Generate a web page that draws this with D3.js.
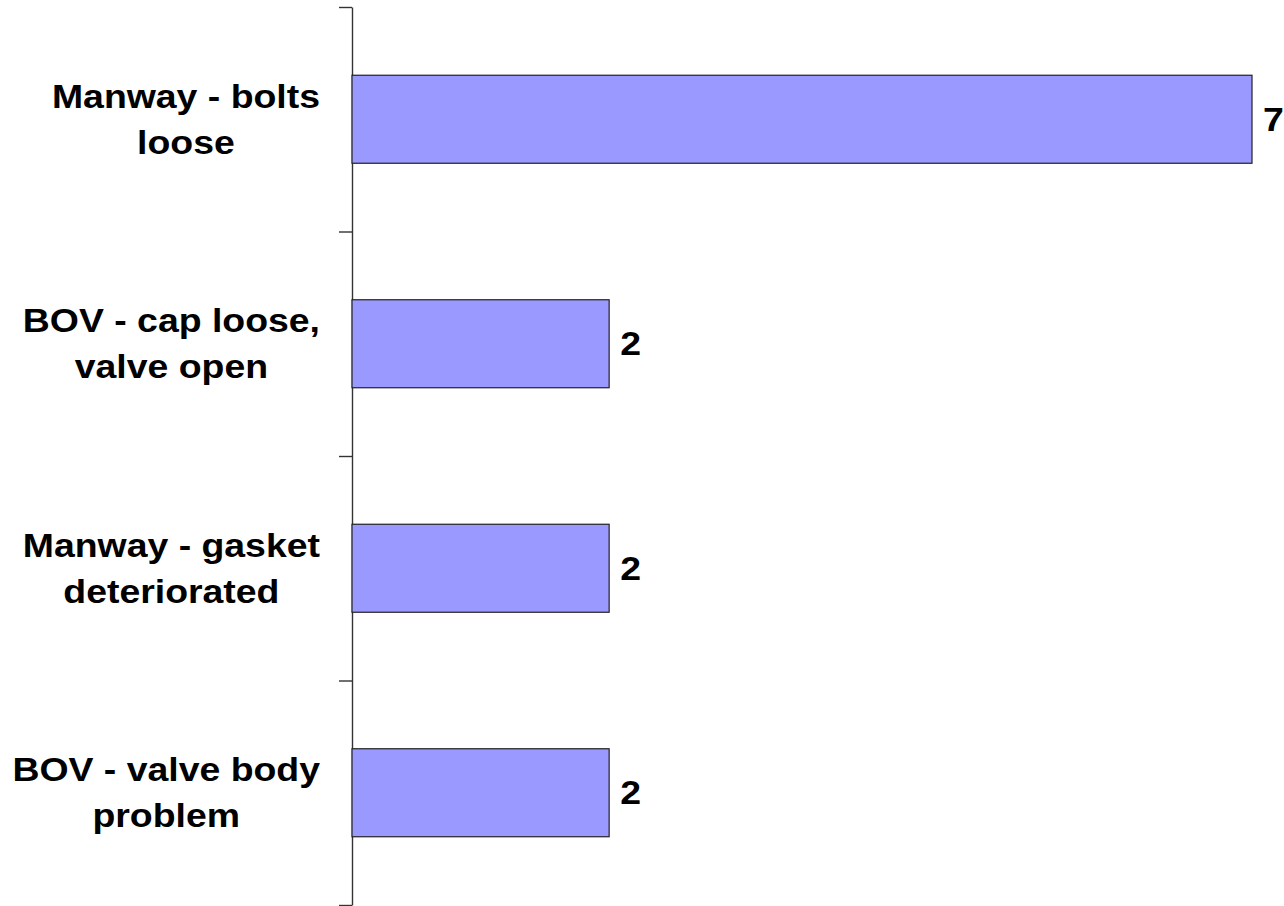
<!DOCTYPE html>
<html>
<head>
<meta charset="utf-8">
<script src="https://cdn.jsdelivr.net/npm/d3@7"></script>
<style>
  html, body { margin: 0; padding: 0; background: #ffffff; }
  svg { display: block; }
  text { font-family: "Liberation Sans", Arial, sans-serif; font-weight: bold; fill: #000; }
</style>
</head>
<body>
<svg id="chart" width="1284" height="906"></svg>
<script>
const categories = [
  ["Manway - bolts", "loose"],
  ["BOV - cap loose,", "valve open"],
  ["Manway - gasket", "deteriorated"],
  ["BOV - valve body", "problem"]
];
const values = [7, 2, 2, 2];
const valueLabels = ["7", "2", "2", "2"];

(function () {
const svg = d3.select("#chart");
const plotLeft = 352, plotRight = 1252, plotTop = 7, plotBottom = 905;

const keys = categories.map((c, i) => i);
const y = d3.scaleBand().domain(keys).range([plotTop, plotBottom]).paddingInner(0.608).paddingOuter(0.304);
const x = d3.scaleLinear().domain([0, 7]).range([plotLeft, plotRight]);
const yEdge = d3.scaleLinear().domain([0, categories.length]).range([plotTop, plotBottom]);

// axis with ticks at category boundaries
const axisG = svg.append("g").attr("transform", `translate(${plotLeft},0)`)
  .call(d3.axisLeft(yEdge).tickValues(d3.range(categories.length + 1)).tickSize(13).tickFormat(() => "").tickSizeOuter(0));
axisG.select(".domain").attr("stroke", "#333").attr("stroke-width", 1.4);
axisG.selectAll(".tick line").attr("stroke", "#333").attr("stroke-width", 1.4);

// bars
svg.append("g").selectAll("rect").data(values).join("rect")
  .attr("x", x(0))
  .attr("y", (d, i) => y(i))
  .attr("width", d => x(d) - x(0))
  .attr("height", y.bandwidth())
  .attr("fill", "#9999FF")
  .attr("stroke", "#222")
  .attr("stroke-width", 1.2);

// value labels
const fs = 34, sx = 1.1;
svg.append("g").selectAll("g").data(values).join("g")
  .attr("transform", (d, i) => `translate(${x(d) + 11},${y(i) + y.bandwidth() / 2}) scale(${sx},1)`)
  .append("text")
  .attr("dominant-baseline", "central")
  .attr("font-size", fs)
  .text((d, i) => valueLabels[i]);

// category labels (two lines, centred, block right-aligned at x=320)
const lineGap = 46;
const labG = svg.append("g");
categories.forEach((lines, i) => {
  const cy = y(i) + y.bandwidth() / 2;
  const g = labG.append("g");
  const texts = lines.map((ln, j) => g.append("text")
    .attr("font-size", fs)
    .attr("text-anchor", "middle")
    .attr("dominant-baseline", "central")
    .attr("y", (j - (lines.length - 1) / 2) * lineGap)
    .text(ln));
  const maxW = d3.max(texts, t => t.node().getComputedTextLength()) * sx;
  const cx = 320 - maxW / 2;
  g.attr("transform", `translate(${cx},${cy}) scale(${sx},1)`);
});
})();
</script>
</body>
</html>
